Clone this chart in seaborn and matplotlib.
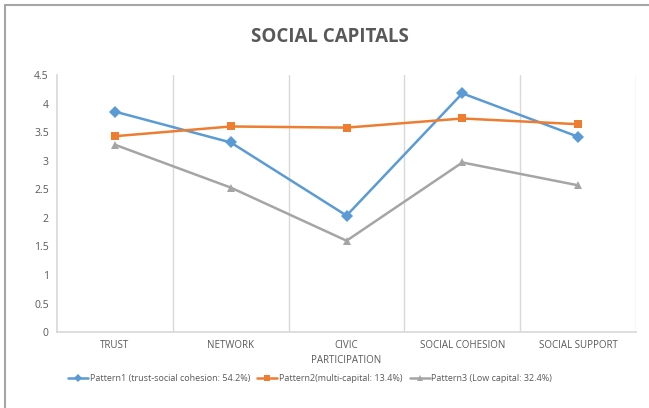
import pandas as pd
import matplotlib
matplotlib.use("Agg")
import matplotlib.pyplot as plt
import seaborn as sns

# data
categories = ["TRUST", "NETWORK", "CIVIC\nPARTICIPATION", "SOCIAL COHESION", "SOCIAL SUPPORT"]
pattern1 = [3.86, 3.32, 2.04, 4.18, 3.42]
pattern2 = [3.43, 3.60, 3.58, 3.74, 3.64]
pattern3 = [3.28, 2.53, 1.60, 2.97, 2.57]
series_names = ["Pattern1 (trust-social cohesion: 54.2%)",
                "Pattern2(multi-capital: 13.4%)",
                "Pattern3 (Low capital: 32.4%)"]

rows = []
for name, vals in zip(series_names, [pattern1, pattern2, pattern3]):
    for c, v in zip(categories, vals):
        rows.append({"category": c, "value": v, "pattern": name})
df = pd.DataFrame(rows)

sns.set_theme(style="white")
plt.rcParams["font.family"] = ["Open Sans", "DejaVu Sans"]

fig = plt.figure(figsize=(6.49, 4.08), dpi=100)
ax = fig.add_axes([0.088, 0.186, 0.892, 0.630])

palette = dict(zip(series_names, ["#5B9BD5", "#ED7D31", "#A5A5A5"]))
markers = dict(zip(series_names, ["D", "s", "^"]))
sns.lineplot(data=df, x="category", y="value", hue="pattern", style="pattern",
             markers=markers, dashes=False, palette=palette, linewidth=1.8,
             markersize=6, markeredgewidth=0, sort=False, ax=ax)

ax.set_xlim(-0.5, len(categories) - 0.5)
ax.set_ylim(0, 4.5)
ax.set_yticks([i * 0.5 for i in range(10)])
ax.set_yticklabels([f"{i * 0.5:g}" for i in range(10)], color="#595959", fontsize=7.5)
ax.set_xticks(range(len(categories)))
ax.set_xticklabels(categories, color="#595959", fontsize=7, linespacing=1.5)
ax.tick_params(axis="both", length=0, pad=6)
for b in [i + 0.5 for i in range(len(categories))]:
    ax.axvline(b, color="#D9D9D9", linewidth=1, zorder=0)
for s in ["top", "right"]:
    ax.spines[s].set_visible(False)
for s in ["left", "bottom"]:
    ax.spines[s].set_color("#D9D9D9")
ax.set_xlabel("")
ax.set_ylabel("")

fig.text(0.508, 0.91, "SOCIAL CAPITALS", ha="center", va="center",
         fontsize=13.5, fontweight="bold", color="#595959")

handles, labels = ax.get_legend_handles_labels()
ax.get_legend().remove()
fig.legend(handles, labels, loc="center", bbox_to_anchor=(0.478, 0.073), ncol=3,
           frameon=False, fontsize=6.5, handlelength=2.2, columnspacing=0.8,
           handletextpad=0.2, labelcolor="#595959", markerscale=0.7, borderaxespad=0)

# outer border (top and left)
fig.add_artist(plt.Line2D([0.008, 1], [0.988, 0.988], color="#A6A6A6", linewidth=1.5,
                          transform=fig.transFigure))
fig.add_artist(plt.Line2D([0.008, 0.008], [0, 0.988], color="#A6A6A6", linewidth=1.5,
                          transform=fig.transFigure))

fig.savefig("out.png", dpi=100)
